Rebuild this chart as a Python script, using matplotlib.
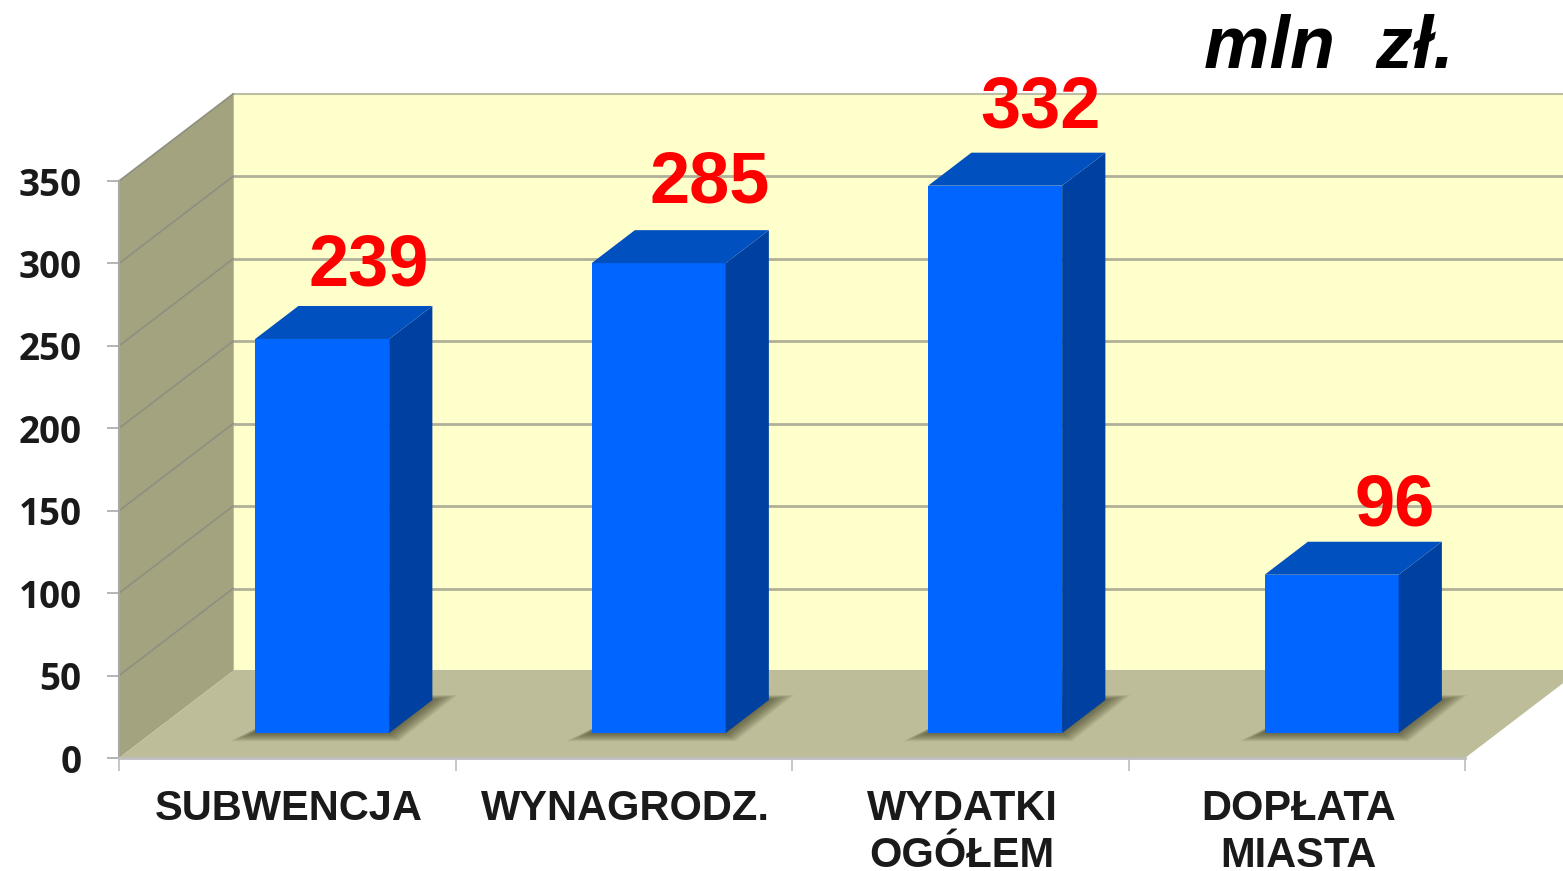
import matplotlib
matplotlib.use('Agg')
import numpy as np
import matplotlib.pyplot as plt
from matplotlib.patches import Polygon

# dane wykresu
categories = ['SUBWENCJA', 'WYNAGRODZ.', 'WYDATKI\nOGÓŁEM', 'DOPŁATA\nMIASTA']
values = [239, 285, 332, 96]
y_ticks = [0, 50, 100, 150, 200, 250, 300, 350]

W, H = 1563, 871
fig = plt.figure(figsize=(W / 100, H / 100), dpi=100, facecolor='white')
ax = fig.add_axes([119 / W, 113 / H, 1346 / W, 577 / H])
ax.set_xlim(0, 4)
ax.set_ylim(0, 350)
ax.patch.set_visible(False)

# glebokosc pseudo-3D w jednostkach osi
depth_x = 114 / (1346 / 4)
depth_y = 87 / (577 / 350)


def proj(x, v, d):
    return (x + d * depth_x, v + d * depth_y)


def face(points, color, z, edge='none', alpha=1.0, lw=0):
    ax.add_patch(Polygon(points, closed=True, facecolor=color, edgecolor=edge, lw=lw,
                         alpha=alpha, zorder=z, clip_on=False))


top = y_ticks[-1]
# sciana tylna, boczna, podloga
face([proj(0, 0, 1), proj(4, 0, 1), proj(4, top, 1), proj(0, top, 1)], '#FFFFCC', 1, '#BDBDA5', lw=1.5)
face([proj(0, 0, 0), proj(0, 0, 1), proj(0, top, 1), proj(0, top, 0)], '#A3A380', 1.1)
face([proj(0, 0, 0), proj(4, 0, 0), proj(4, 0, 1), proj(0, 0, 1)], '#BDBD99', 1.2)

# siatka
for t in y_ticks[1:-1]:
    ax.plot(*zip(proj(0, t, 1), proj(4, t, 1)), color='#B0B09A', lw=2, zorder=1.05, clip_on=False)
for t in y_ticks[1:]:
    ax.plot(*zip(proj(0, t, 0), proj(0, t, 1)), color='#8F8F80', lw=1.2, zorder=1.15, clip_on=False)

# slupki
bar_w = 134 / (1346 / 4)
bar_lead = 0.3072
d0, d1 = 25 / 87, 58 / 87
label_dx = [0.137, 0.152, 0.134, 0.187]
label_dy = [43.9, 48.1, 46.9, 41.5]
for i, v in enumerate(values):
    x0 = i + bar_lead
    x1 = x0 + bar_w
    # cien na podlodze
    n = 14
    for k in range(n):
        f = 1 - k / n
        s = 0.075 * f
        sy = 5 * f
        face([proj(x0 - s, -sy, d0), proj(x1 + s * 0.4, -sy, d0),
              proj(x1 + s, sy * 0.6, d1), proj(x0 + s, sy * 0.6, d1)],
             '#3A3A20', 1.3 + k * 0.01, alpha=0.06)
    face([proj(x0, 0, d0), proj(x1, 0, d0), proj(x1, v, d0), proj(x0, v, d0)], '#0066FF', 3)
    face([proj(x1, 0, d0), proj(x1, 0, d1), proj(x1, v, d1), proj(x1, v, d0)], '#0040A0', 3)
    face([proj(x0, v, d0), proj(x1, v, d0), proj(x1, v, d1), proj(x0, v, d1)], '#0050C0', 3)
    cx, cy = proj(x0 + bar_w / 2, v, d0)
    ax.text(cx + label_dx[i], cy + label_dy[i], str(v), color='#FF0000', fontsize=52, fontweight='bold',
            family='Liberation Sans', ha='center', va='center', zorder=5, clip_on=False)

# osie
for s in ['top', 'right']:
    ax.spines[s].set_visible(False)
ax.spines['left'].set_color('#A8A8A8')
ax.spines['bottom'].set_color('#BEBEBE')
ax.spines['left'].set_linewidth(1.5)
ax.spines['bottom'].set_linewidth(2)
ax.set_yticks(y_ticks)
ax.set_yticklabels(y_ticks, family='Open Sans', fontweight='bold', fontsize=26.5, color='#1A1A1A')
ax.tick_params(axis='y', length=9, width=1.2, color='#A8A8A8', pad=18, direction='out')
ax.set_xticks(range(5))
ax.set_xticklabels([])
ax.tick_params(axis='x', which='major', length=9, width=1.2, color='#BEBEBE')
ax.set_xticks(np.arange(4) + 0.506, minor=True)
ax.set_xticklabels(categories, minor=True, family='Liberation Sans', fontweight='bold',
                   fontsize=30, color='#1A1A1A', linespacing=1.24)
ax.tick_params(axis='x', which='minor', length=0, pad=22)

fig.text(1329 / W, 1 - 49 / H, 'mln  zł.', family='Liberation Sans', fontweight='bold', style='italic',
         fontsize=53, color='black', ha='center', va='center')

fig.savefig('out.png', dpi=100)
